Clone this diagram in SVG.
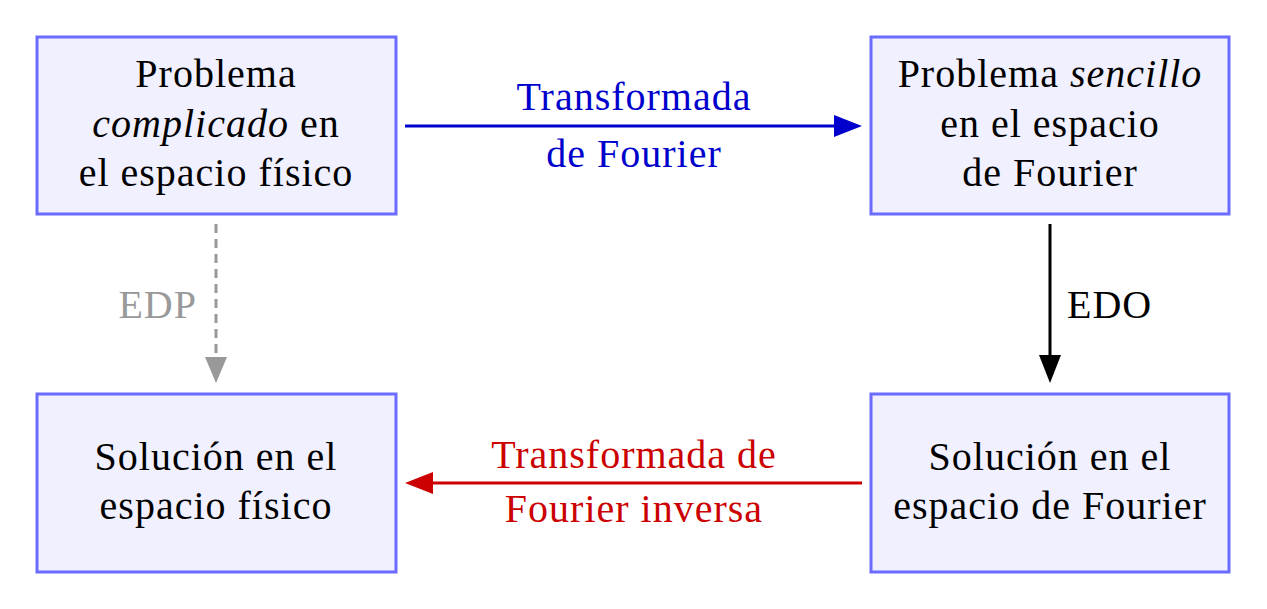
<svg xmlns="http://www.w3.org/2000/svg" width="1267" height="609" viewBox="0 0 1267 609">
<style>
.box{fill:#f0f0ff;stroke:#6b6bff;stroke-width:3}
text{font-family:'Liberation Serif','DejaVu Serif',serif;font-size:40px;letter-spacing:1px;text-anchor:middle;fill:#000}
.it{font-style:italic}
.blue{fill:#0000cc}
.red{fill:#cc0000}
.gray{fill:#999999}
</style>
<defs>
<marker id="ab" markerUnits="userSpaceOnUse" markerWidth="28" markerHeight="22" refX="16" refY="11" orient="auto"><path d="M0,0 L28,11 L0,22 z" fill="#0000cc"/></marker>
<marker id="ar" markerUnits="userSpaceOnUse" markerWidth="28" markerHeight="22" refX="16" refY="11" orient="auto"><path d="M0,0 L28,11 L0,22 z" fill="#cc0000"/></marker>
<marker id="ak" markerUnits="userSpaceOnUse" markerWidth="28" markerHeight="22" refX="16" refY="11" orient="auto"><path d="M0,0 L28,11 L0,22 z" fill="#000"/></marker>
<marker id="ag" markerUnits="userSpaceOnUse" markerWidth="26" markerHeight="22" refX="14" refY="11" orient="auto"><path d="M0,0 L26,11 L0,22 z" fill="#999999"/></marker>
</defs>
<g id="n1">
<rect class="box" x="37" y="37" width="359" height="177"/>
<text x="216" y="87">Problema</text>
<text x="216" y="137"><tspan class="it">complicado</tspan> en</text>
<text x="216" y="186">el espacio físico</text>
</g>
<g id="n2">
<rect class="box" x="871" y="37" width="358" height="177"/>
<text x="1050" y="87">Problema <tspan class="it">sencillo</tspan></text>
<text x="1050" y="137">en el espacio</text>
<text x="1050" y="186">de Fourier</text>
</g>
<g id="n3">
<rect class="box" x="37" y="394" width="359" height="178"/>
<text x="216" y="470">Solución en el</text>
<text x="216" y="519">espacio físico</text>
</g>
<g id="n4">
<rect class="box" x="871" y="394" width="358" height="178"/>
<text x="1050" y="470">Solución en el</text>
<text x="1050" y="519">espacio de Fourier</text>
</g>
<g id="connectors">
<line x1="405" y1="126" x2="850" y2="126" stroke="#0000cc" stroke-width="3" marker-end="url(#ab)"/>
<text class="blue" x="634" y="110">Transformada</text>
<text class="blue" x="634" y="167">de Fourier</text>
<line x1="216" y1="224" x2="216" y2="371" stroke="#999999" stroke-width="3" stroke-dasharray="9,6" marker-end="url(#ag)"/>
<text class="gray" x="197" y="318" style="text-anchor:end">EDP</text>
<line x1="1050" y1="224" x2="1050" y2="371" stroke="#000" stroke-width="3" marker-end="url(#ak)"/>
<text x="1067" y="318" style="text-anchor:start">EDO</text>
<line x1="862" y1="483" x2="417" y2="483" stroke="#cc0000" stroke-width="3" marker-end="url(#ar)"/>
<text class="red" x="634" y="468">Transformada de</text>
<text class="red" x="634" y="522">Fourier inversa</text>
</g>
</svg>
